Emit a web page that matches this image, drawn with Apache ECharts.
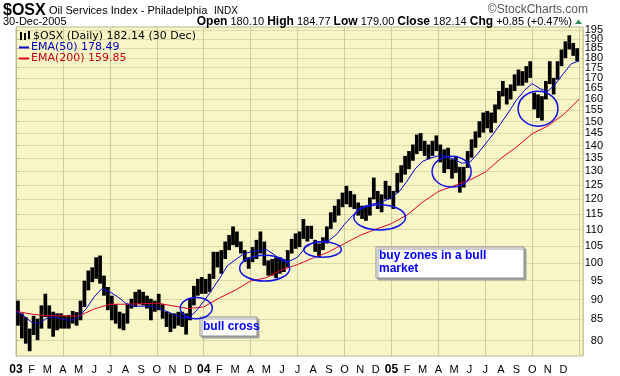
<!DOCTYPE html>
<html>
<head>
<meta charset="utf-8">
<script src="https://cdn.jsdelivr.net/npm/echarts@6/dist/echarts.min.js"></script>
<style>
  html, body { margin: 0; padding: 0; background: #fff; }
  #chart { width: 620px; height: 376px; }
</style>
</head>
<body>
<div id="chart"></div>
<script>
const sampleStep = 0.25; // months per sample
const priceHigh = [
  89.7, 86.5, 85.6, 82.8, 85.9, 85.2, 88.5, 91.5, 88.5, 86.9, 86.5, 86.5,
  85.9, 86.1, 87.1, 86.8, 89.7, 95.0, 97.8, 98.7, 101.6, 102.1, 96.4, 93.3,
  91.0, 88.8, 86.9, 86.5, 88.8, 90.2, 92.0, 92.6, 92.0, 91.0, 90.2, 89.7,
  91.5, 88.8, 86.9, 86.5, 86.5, 86.9, 86.9, 86.5, 90.2, 93.6, 95.5, 96.0,
  95.5, 96.9, 103.2, 103.2, 103.7, 106.3, 108.3, 111.0, 109.4, 106.3, 103.7, 101.6,
  104.6, 106.8, 109.4, 106.3, 100.7, 101.1, 101.6, 101.6, 101.1, 103.7, 107.1, 108.8,
  109.4, 113.4, 111.2, 111.2, 106.8, 105.7, 107.6, 111.0, 115.6, 117.8, 120.0, 122.3,
  124.7, 122.9, 121.7, 118.9, 117.8, 117.8, 120.6, 127.7, 122.9, 121.7, 126.5, 124.7,
  122.9, 129.4, 132.3, 135.9, 137.8, 140.4, 144.5, 145.1, 141.9, 140.4, 141.9, 144.1,
  140.4, 138.5, 139.1, 134.6, 135.9, 131.7, 131.7, 137.8, 142.5, 145.8, 150.1, 153.9,
  154.6, 153.9, 157.5, 163.7, 168.5, 165.2, 166.8, 171.7, 174.1, 173.3, 175.8, 178.3,
  162.9, 162.1, 161.3, 168.5, 178.3, 170.0, 178.3, 184.4, 188.8, 192.1, 187.9, 185.1
];
const priceLow = [
  83.5, 80.5, 79.3, 77.6, 81.3, 80.1, 82.8, 85.6, 82.8, 80.9, 82.4, 82.8,
  82.8, 82.8, 84.0, 83.5, 84.8, 88.1, 92.4, 94.6, 95.5, 94.2, 91.0, 87.3,
  84.8, 84.0, 82.8, 82.4, 84.0, 87.7, 88.1, 88.8, 88.5, 87.7, 84.8, 86.9,
  87.3, 85.2, 83.2, 82.0, 82.8, 83.5, 83.2, 81.4, 84.8, 88.5, 91.0, 91.5,
  91.5, 92.0, 95.5, 98.7, 96.9, 101.1, 103.7, 105.2, 104.6, 102.7, 100.2, 98.3,
  100.2, 101.1, 102.7, 99.2, 96.4, 96.4, 95.7, 96.9, 97.4, 98.7, 102.7, 104.1,
  104.6, 107.1, 106.3, 107.1, 103.2, 101.6, 103.7, 105.7, 110.2, 112.3, 114.5, 117.3,
  118.3, 117.3, 116.7, 114.5, 113.4, 112.8, 114.5, 120.0, 116.7, 115.6, 120.0, 120.0,
  116.7, 122.3, 125.9, 128.8, 130.8, 134.0, 136.6, 137.8, 135.9, 134.6, 135.9, 137.8,
  133.4, 129.4, 130.8, 127.3, 129.4, 122.3, 124.1, 131.3, 135.2, 139.1, 143.2, 145.3,
  147.1, 145.3, 149.4, 155.3, 161.2, 157.5, 159.8, 163.7, 166.2, 166.2, 167.7, 170.0,
  155.3, 151.5, 150.4, 159.8, 167.0, 162.1, 169.1, 175.8, 179.9, 184.4, 181.1, 178.3
];
// EMA(50), every half month
const ema50Step = 0.5;
const ema50 = [
  87.0, 85.9, 84.3, 84.1, 85.4, 85.6, 85.0, 84.8, 85.6, 87.7, 90.7, 92.9,
  92.0, 90.7, 89.1, 88.3, 88.3, 88.3, 88.0, 87.2, 86.4, 85.6, 85.3, 87.0,
  89.5, 92.4, 95.5, 99.1, 100.8, 102.4, 103.2, 103.5, 103.9, 102.4, 100.5, 100.5,
  101.6, 104.4, 106.0, 106.3, 106.6, 108.5, 111.7, 114.4, 117.0, 118.0, 118.6, 119.3,
  120.6, 122.7, 126.4, 130.8, 133.8, 135.1, 135.9, 135.9, 134.6, 133.1, 133.4, 136.6,
  140.6, 144.6, 149.2, 154.1, 159.6, 163.9, 167.2, 164.8, 163.4, 167.2, 172.1, 177.0,
  178.49
];
// EMA(200), every month
const ema200Step = 1;
const ema200 = [
  87.0, 86.3, 85.9, 85.9, 85.8, 87.6, 88.8, 88.8, 88.9, 89.1, 88.4, 87.7,
  88.1, 90.4, 92.4, 94.9, 95.8, 98.0, 99.5, 101.4, 103.2, 105.7, 108.2, 110.1,
  111.9, 114.7, 119.0, 122.7, 124.7, 126.8, 129.7, 134.9, 139.4, 144.8, 148.1, 153.0,
  159.85
];
const monthLabels = ["J", "F", "M", "A", "M", "J", "J", "A", "S", "O", "N", "D"];
const yearLabels = ["03", "04", "05"];
const yTicks = [80, 85, 90, 95, 100, 105, 110, 115, 120, 125, 130, 135, 140, 145,
  150, 155, 160, 165, 170, 175, 180, 185, 190, 195];

// buy-zone circles: [month from, month to, price low, price high]
const zones = [
  [10.5, 12.55, 85.2, 90.5],
  [14.3, 17.5, 94.9, 102.2],
  [18.4, 20.8, 101.6, 106.2],
  [21.6, 24.9, 109.9, 118.1],
  [26.6, 29.1, 124.3, 135.8],
  [32.1, 34.65, 148.0, 163.6]
];

const xMax = 36.25;
const yMin = Math.log(76.54);
const yMax = Math.log(196.7);
const lnTicks = yTicks.map((v) => Math.log(v));
// labels sit closer than their own height on a log scale, so they are split over
// two overlaid axes (tens and fives) to keep echarts from dropping any of them
const lnTicksA = lnTicks.filter((v, i) => i % 2 === 0);
const lnTicksB = lnTicks.filter((v, i) => i % 2 === 1);

const bars = priceHigh.map((h, i) => [(i + 0.5) * sampleStep, Math.log(priceLow[i]), Math.log(h)]);
const ema50Pts = ema50.map((v, i) => [i * ema50Step, Math.log(v)]);
const ema200Pts = ema200.map((v, i) => [i * ema200Step, Math.log(v)]);

const chart = echarts.init(document.getElementById("chart"));
const axisFont = '"Liberation Sans", Arial, sans-serif';
const yLabel = {
  align: "right", margin: 20, color: "#000", fontFamily: axisFont, fontSize: 11,
  hideOverlap: false,
  formatter: (v) => String(Math.round(Math.exp(v))),
};

chart.setOption({
  animation: false,
  grid: {
    left: 16, right: 37, top: 27, bottom: 19,
    show: true, backgroundColor: "#f8f6c6", borderColor: "#b9b78f", borderWidth: 1,
  },
  xAxis: [
    {
      type: "value", min: 0, max: xMax, interval: 1,
      axisLine: { show: false }, axisTick: { show: false }, splitLine: { show: false },
      axisLabel: {
        margin: 8, color: "#000", fontFamily: axisFont, fontSize: 11, showMaxLabel: false,
        hideOverlap: false,
        formatter: (v) => {
          if (!Number.isInteger(v) || v >= 36) return "";
          const m = v % 12;
          return m === 0 ? "{y|" + yearLabels[v / 12] + "}" : monthLabels[m];
        },
        rich: { y: { fontWeight: "bold", fontSize: 12, fontFamily: axisFont, color: "#000" } },
      },
    },
    {
      type: "value", min: 0, max: xMax, interval: 3,
      axisLine: { show: false }, axisTick: { show: false }, axisLabel: { show: false },
      splitLine: { show: true, lineStyle: { color: "#cdcc9c", width: 1 } },
    },
  ],
  yAxis: [
    {
      type: "value", position: "right", min: yMin, max: yMax,
      axisLine: { show: true, lineStyle: { color: "#b9b78f" } },
      axisTick: { show: true, customValues: lnTicks, length: 3, lineStyle: { color: "#b9b78f" } },
      axisLabel: Object.assign({ customValues: lnTicksA, showMaxLabel: true, showMinLabel: true }, yLabel),
      splitLine: { show: true, lineStyle: { color: "#dedba9", width: 1 } },
    },
    {
      type: "value", position: "right", offset: 0, min: yMin, max: yMax,
      axisLine: { show: false }, axisTick: { show: false }, splitLine: { show: false },
      axisLabel: Object.assign({ customValues: lnTicksB, showMaxLabel: true, showMinLabel: true }, yLabel),
    },
  ],
  series: [
    {
      type: "custom", xAxisIndex: 0, yAxisIndex: 0, data: bars, encode: { x: 0, y: [1, 2] }, z: 3,
      renderItem: (params, api) => {
        const x = api.value(0);
        const top = api.coord([x, api.value(2)]);
        const bot = api.coord([x, api.value(1)]);
        const w = api.size([sampleStep, 0])[0] * 0.95;
        return {
          type: "rect",
          shape: { x: top[0] - w / 2, y: top[1], width: w, height: bot[1] - top[1] },
          style: { fill: "#000" },
        };
      },
    },
    {
      type: "line", xAxisIndex: 0, yAxisIndex: 0, data: ema200Pts, showSymbol: false, z: 4,
      lineStyle: { color: "#e4002b", width: 1 },
    },
    {
      type: "line", xAxisIndex: 0, yAxisIndex: 0, data: ema50Pts, showSymbol: false, z: 5,
      lineStyle: { color: "#0000d0", width: 1 },
    },
  ],
});

const txt = (x, y, text, font, fill, align) => ({
  type: "text", x, y, silent: true,
  style: {
    text, font, fill: fill || "#000",
    textAlign: align || "left", align: align || "left",
    textVerticalAlign: "middle", verticalAlign: "middle",
  },
});

const head = '"Liberation Sans", Arial, sans-serif';
const legendFont = '11px "DejaVu Sans", Verdana, sans-serif';
const graphics = [
  {
    type: "text", x: 3, y: 11, silent: true,
    style: {
      text: "{a|$OSX} {b|Oil Services Index - Philadelphia}  {c|INDX}",
      textAlign: "left", align: "left", textVerticalAlign: "middle", verticalAlign: "middle",
      rich: {
        a: { font: 'bold 16px "Liberation Sans Narrow", "Liberation Sans", Arial, sans-serif', fill: "#000" },
        b: { font: "11px " + head, fill: "#000" },
        c: { font: "10px " + head, fill: "#000" },
      },
    },
  },
  txt(588, 10, "\u00a9StockCharts.com", "12px " + head, "#555", "right"),
  txt(3, 22, "30-Dec-2005", "11px " + head),
  {
    type: "text", x: 572, y: 22, silent: true,
    style: {
      text: "{b|Open} 180.10 {b|High} 184.77 {b|Low} 179.00 {b|Close} 182.14 {b|Chg} +0.85 (+0.47%)",
      font: "11px " + head, fill: "#000",
      textAlign: "right", align: "right", textVerticalAlign: "middle", verticalAlign: "middle",
      rich: { b: { fontWeight: "bold", fontSize: 12, fontFamily: head } },
    },
  },
  { type: "polygon", silent: true, shape: { points: [[575, 24], [582, 24], [578.5, 19.5]] }, style: { fill: "#2e8b57" } },
  // legend
  { type: "rect", silent: true, shape: { x: 20, y: 32, width: 2, height: 8 }, style: { fill: "#000" } },
  { type: "rect", silent: true, shape: { x: 24, y: 33, width: 2, height: 7 }, style: { fill: "#000" } },
  { type: "rect", silent: true, shape: { x: 28, y: 31, width: 2, height: 8 }, style: { fill: "#000" } },
  txt(33, 36.5, "$OSX (Daily) 182.14 (30 Dec)", legendFont),
  { type: "line", silent: true, shape: { x1: 19, y1: 47.5, x2: 29, y2: 47.5 }, style: { stroke: "#0000d0", lineWidth: 2 } },
  txt(31, 47.5, "EMA(50) 178.49", legendFont, "#0000c0"),
  { type: "line", silent: true, shape: { x1: 19, y1: 58.5, x2: 29, y2: 58.5 }, style: { stroke: "#e4002b", lineWidth: 2 } },
  txt(31, 58.5, "EMA(200) 159.85", legendFont, "#c8001e"),
  // notes
  {
    type: "rect", silent: true, shape: { x: 200, y: 317, width: 57, height: 19 },
    style: { fill: "#fff", stroke: "#8c8c8c", lineWidth: 1, shadowColor: "#a0a0a0", shadowOffsetX: 2, shadowOffsetY: 2, shadowBlur: 0 },
  },
  txt(203, 327, "bull cross", "bold 12px " + head, "#0000ff"),
  {
    type: "rect", silent: true, shape: { x: 376, y: 247, width: 148, height: 31 },
    style: { fill: "#fff", stroke: "#8c8c8c", lineWidth: 1, shadowColor: "#a0a0a0", shadowOffsetX: 2, shadowOffsetY: 2, shadowBlur: 0 },
  },
  txt(379, 255.5, "buy zones in a bull", "bold 12px " + head, "#0000ff"),
  txt(379, 268.5, "market", "bold 12px " + head, "#0000ff"),
];

zones.forEach((z) => {
  const p0 = chart.convertToPixel({ gridIndex: 0 }, [z[0], Math.log(z[3])]);
  const p1 = chart.convertToPixel({ gridIndex: 0 }, [z[1], Math.log(z[2])]);
  graphics.push({
    type: "ellipse", silent: true, z: 10,
    shape: { cx: (p0[0] + p1[0]) / 2, cy: (p0[1] + p1[1]) / 2, rx: (p1[0] - p0[0]) / 2, ry: (p1[1] - p0[1]) / 2 },
    style: { fill: null, stroke: "#1010e8", lineWidth: 1.5 },
  });
});

chart.setOption({ graphic: graphics });
</script>
</body>
</html>
